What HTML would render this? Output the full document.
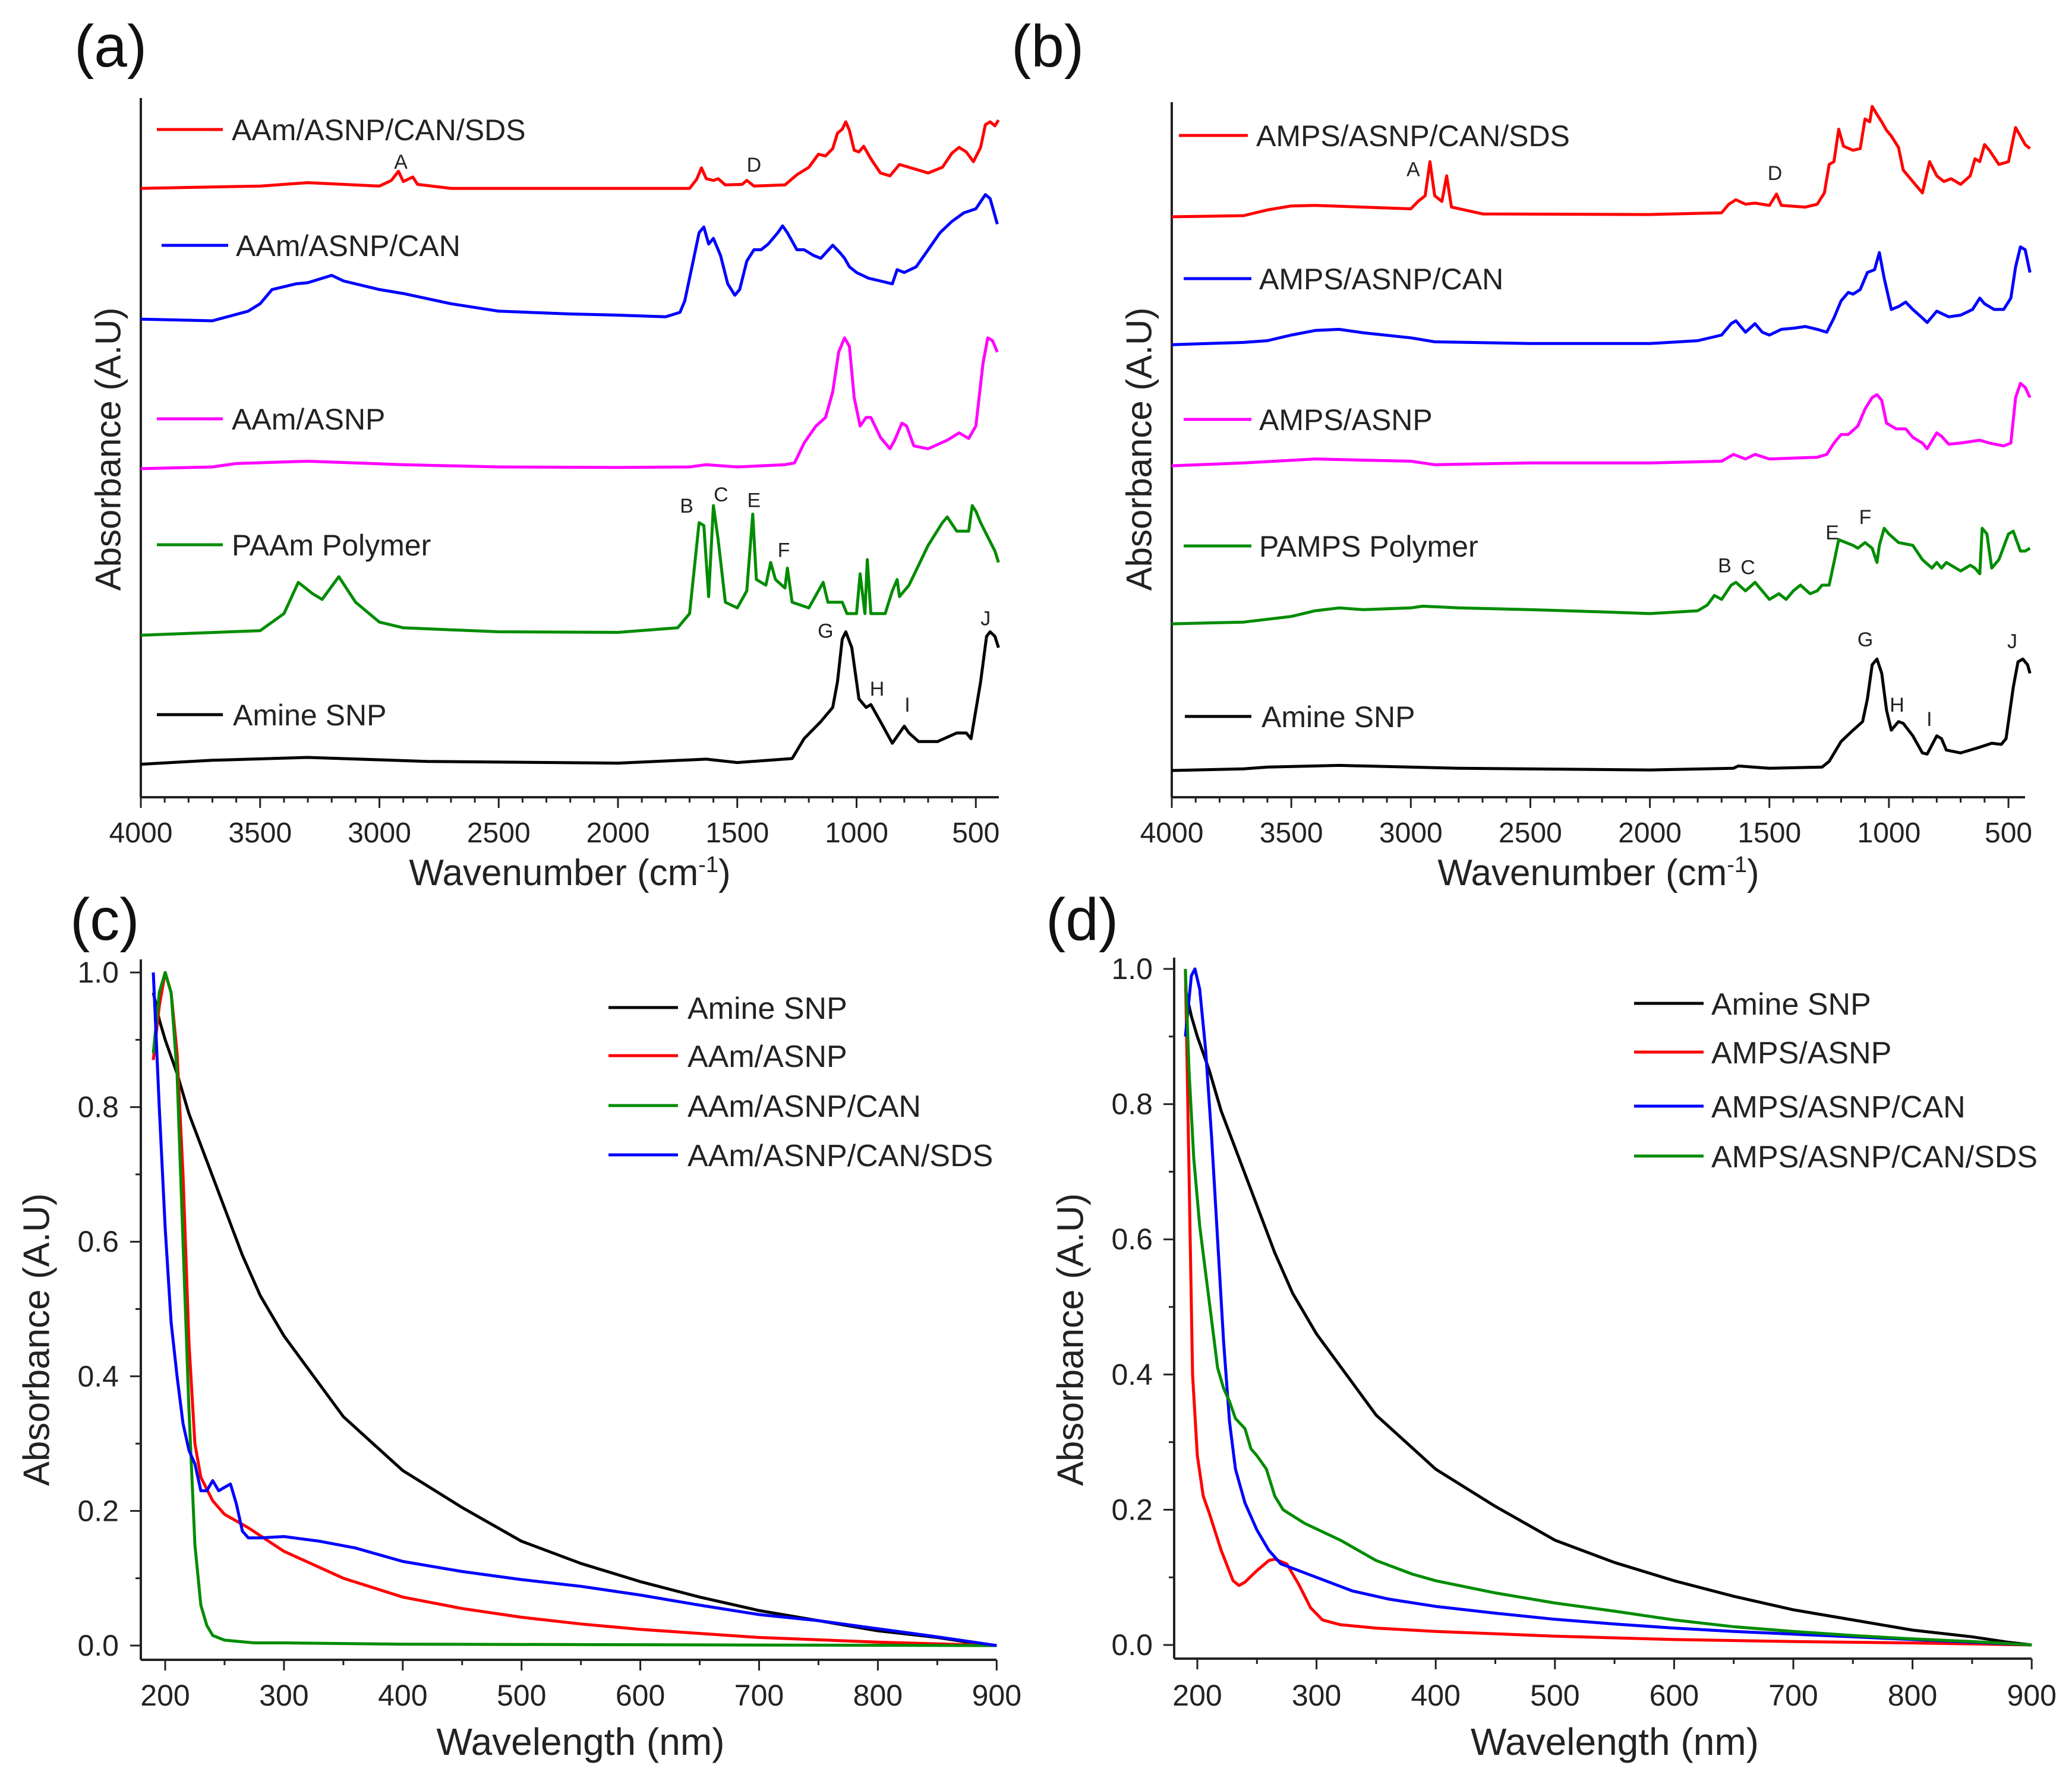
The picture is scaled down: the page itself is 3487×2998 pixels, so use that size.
<!DOCTYPE html>
<html><head><meta charset="utf-8"><style>
html,body{margin:0;padding:0;background:#fff;}
svg{display:block;font-family:"Liberation Sans",Arial,sans-serif;}
</style></head><body>
<svg id="fig" width="3487" height="2998" viewBox="0 0 3487 2998" xmlns="http://www.w3.org/2000/svg">
<rect width="3487" height="2998" fill="#fff"/>
<g id="pa"></g>
<g id="pb"></g>
<g id="pc"></g>
<g id="pd"></g>
</svg>
<script>
// ---------- Panel (a) FTIR data: [wavenumber cm-1, offset absorbance a.u.] ----------
const aBlack=[[4000,5.8],[3700,6.5],[3300,7.0],[2800,6.3],[2000,6.0],[1630,6.7],[1500,6.1],[1270,6.8],[1220,10.3],[1150,13.3],[1100,15.8],[1080,20.3],[1060,27.8],[1045,29.1],[1020,26.3],[990,17.3],[960,15.8],[940,16.3],[900,13.3],[850,9.5],[800,12.5],[780,11.3],[740,9.8],[660,9.8],[580,11.3],[540,11.3],[520,10.3],[480,20.3],[455,28.3],[440,29.1],[420,28.3],[405,26.3]];
const aGreen=[[4000,28.5],[3500,29.3],[3400,32.3],[3340,37.8],[3280,35.8],[3240,34.8],[3170,38.8],[3100,34.3],[3000,30.8],[2900,29.8],[2500,29.1],[2000,29.0],[1750,29.8],[1700,32.3],[1680,40.3],[1660,48.3],[1640,47.8],[1620,35.3],[1600,51.3],[1580,45.3],[1550,34.3],[1500,33.3],[1460,36.3],[1435,49.8],[1420,38.3],[1380,37.3],[1360,41.3],[1340,38.3],[1300,36.8],[1290,40.3],[1270,34.3],[1200,33.3],[1140,37.8],[1120,34.3],[1060,34.3],[1040,32.3],[1000,32.3],[985,39.3],[965,32.3],[955,41.8],[940,32.3],[880,32.3],[850,36.3],[830,38.3],[820,35.3],[780,37.3],[700,44.3],[640,48.3],[620,49.3],[580,46.8],[530,46.8],[515,51.3],[500,50.3],[480,48.3],[450,45.8],[420,43.3],[405,41.3]];
const aMagenta=[[4000,57.8],[3700,58.1],[3600,58.7],[3300,59.1],[2900,58.5],[2500,58.1],[2000,58.0],[1700,58.1],[1630,58.5],[1500,58.1],[1300,58.5],[1260,58.8],[1220,62.3],[1170,65.3],[1130,66.8],[1100,71.3],[1075,78.3],[1050,80.8],[1030,79.3],[1010,70.3],[985,65.3],[960,66.8],[940,66.8],[900,63.3],[860,61.3],[840,62.8],[810,65.8],[790,65.3],[760,61.8],[700,61.3],[620,62.8],[570,64.1],[530,63.1],[500,65.3],[470,76.3],[450,80.8],[430,80.3],[410,78.3]];
const aBlue=[[4000,84.1],[3700,83.8],[3550,85.5],[3500,86.8],[3450,89.3],[3350,90.3],[3300,90.5],[3200,91.8],[3150,90.8],[3000,89.3],[2900,88.6],[2700,86.8],[2500,85.5],[2200,85.0],[2000,84.8],[1800,84.5],[1740,85.3],[1720,87.3],[1690,93.3],[1660,99.3],[1640,100.3],[1620,97.3],[1600,98.3],[1570,95.3],[1540,90.3],[1510,88.3],[1490,89.3],[1460,94.3],[1430,96.3],[1400,96.3],[1370,97.3],[1330,99.3],[1310,100.5],[1290,99.3],[1250,96.3],[1220,96.3],[1180,95.3],[1150,94.8],[1100,97.1],[1070,95.8],[1050,94.8],[1030,93.3],[1000,92.3],[950,91.3],[900,90.8],[850,90.3],[830,92.8],[800,92.3],[750,93.3],[700,96.3],[650,99.3],[600,101.3],[550,102.8],[500,103.5],[460,106.0],[440,105.3],[410,100.8]];
const aRed=[[4000,107.1],[3500,107.5],[3300,108.1],[3000,107.5],[2950,108.5],[2920,110.1],[2900,108.3],[2860,109.1],[2840,107.8],[2700,107.1],[2000,107.1],[1700,107.1],[1670,108.7],[1650,110.7],[1630,108.8],[1600,108.5],[1580,108.8],[1550,107.7],[1480,107.8],[1460,108.5],[1430,107.5],[1300,107.7],[1250,109.5],[1200,110.8],[1160,113.1],[1130,112.8],[1100,114.1],[1080,116.8],[1060,117.5],[1045,118.8],[1030,117.3],[1010,113.8],[990,113.5],[970,114.5],[940,112.3],[900,109.8],[860,109.3],[820,111.3],[780,110.8],[740,110.3],[700,109.8],[640,110.8],[600,113.3],[570,114.3],[540,113.5],[510,111.8],[480,114.3],[460,118.3],[440,118.8],[420,118.1],[405,119.1]];
const aPeakLabels=["A","D","B","C","E","F","G","H","I","J"];
const aPeakPos=[[2910,111.8],[1430,111.3],[1712,51.3],[1568,53.3],[1430,52.3],[1305,43.5],[1130,29.3],[914,19.1],[787,16.3],[459,31.5]];
const aLegendNames=["AAm/ASNP/CAN/SDS","AAm/ASNP/CAN","AAm/ASNP","PAAm Polymer","Amine SNP"];

// ---------- Panel (b) FTIR data ----------
const bBlack=[[4000,4.7],[3700,5.0],[3600,5.3],[3300,5.6],[2800,5.1],[2000,4.8],[1650,5.1],[1630,5.5],[1500,5.1],[1280,5.3],[1250,6.3],[1200,9.8],[1150,11.8],[1110,13.3],[1090,17.3],[1070,23.3],[1050,24.3],[1030,21.8],[1010,15.3],[990,11.8],[960,13.3],[940,13.0],[900,10.8],[860,7.8],[840,7.6],[800,10.8],[780,10.3],[760,8.3],[700,7.8],[620,8.8],[570,9.5],[530,9.3],[510,10.3],[480,19.3],[460,23.8],[440,24.3],[420,23.3],[410,21.8]];
const bGreen=[[4000,30.5],[3700,30.8],[3500,31.8],[3400,32.8],[3300,33.3],[3200,33.0],[3000,33.3],[2950,33.6],[2800,33.3],[2500,33.0],[2200,32.6],[2000,32.3],[1800,32.8],[1760,33.8],[1730,35.5],[1700,34.8],[1660,37.3],[1640,37.8],[1600,36.3],[1560,37.8],[1530,36.3],[1500,34.8],[1460,35.8],[1430,34.8],[1400,36.3],[1370,37.3],[1330,35.8],[1300,36.3],[1280,37.3],[1250,37.3],[1230,41.3],[1210,45.3],[1180,44.8],[1150,44.3],[1130,43.8],[1100,44.8],[1070,43.8],[1050,41.3],[1040,44.3],[1020,47.3],[1000,46.3],[960,44.8],[900,44.3],[860,41.8],[820,40.3],[800,41.3],[780,40.3],[760,41.3],[700,39.8],[660,40.8],[640,40.3],[620,39.3],[610,47.3],[590,46.3],[570,40.3],[540,41.8],[500,46.3],[480,46.8],[450,43.3],[430,43.3],[410,43.8]];
const bMagenta=[[4000,58.3],[3700,58.8],[3400,59.5],[3000,59.1],[2900,58.5],[2500,58.8],[2000,58.8],[1700,59.1],[1650,60.3],[1600,59.5],[1560,60.3],[1500,59.5],[1300,59.8],[1260,60.3],[1230,62.3],[1200,63.8],[1170,63.8],[1130,65.3],[1100,68.3],[1070,70.3],[1050,70.8],[1030,69.8],[1010,65.8],[970,64.8],[930,64.8],[900,63.3],[860,62.3],[840,61.3],[800,64.1],[780,63.5],[750,62.1],[700,62.3],[620,62.8],[580,62.3],[520,61.8],[490,62.3],[470,70.3],[450,72.8],[430,72.1],[410,70.3]];
const bBlue=[[4000,79.6],[3700,80.0],[3600,80.3],[3500,81.3],[3400,82.1],[3300,82.3],[3200,81.7],[3000,80.8],[2900,80.1],[2500,79.8],[2000,79.8],[1800,80.3],[1700,81.3],[1660,83.3],[1640,83.8],[1600,81.8],[1560,83.3],[1530,81.8],[1500,81.3],[1450,82.3],[1400,82.5],[1350,82.8],[1300,82.3],[1260,81.8],[1230,84.3],[1200,87.3],[1170,88.8],[1150,88.5],[1120,89.3],[1090,92.3],[1060,92.8],[1040,95.8],[1020,91.3],[990,85.8],[960,86.3],[930,87.1],[900,85.8],[860,84.3],[840,83.5],[800,85.5],[780,85.1],[750,84.5],[700,84.8],[650,85.8],[620,87.8],[600,86.8],[560,85.8],[520,85.8],[490,87.8],[470,93.3],[450,96.8],[430,96.3],[410,92.3]];
const bRed=[[4000,102.1],[3700,102.3],[3600,103.3],[3500,104.0],[3400,104.1],[3000,103.5],[2970,104.8],[2940,105.8],[2920,111.8],[2900,105.8],[2870,104.8],[2850,109.3],[2830,103.8],[2700,102.6],[2000,102.5],[1700,102.8],[1670,104.3],[1640,105.1],[1600,104.3],[1560,104.5],[1500,104.1],[1470,106.1],[1450,104.1],[1350,103.8],[1300,104.3],[1270,106.3],[1250,111.3],[1230,111.8],[1210,117.5],[1190,114.5],[1150,113.8],[1120,114.1],[1100,119.3],[1080,118.8],[1070,121.5],[1050,120.1],[1030,118.8],[1010,117.3],[990,116.3],[960,114.3],[940,110.3],[900,108.3],[860,106.3],[830,111.8],[800,109.3],[770,108.3],[740,108.8],[700,107.8],[660,109.3],[640,112.3],[620,111.8],[600,114.8],[580,113.8],[540,111.3],[500,111.8],[470,117.8],[450,116.3],[430,114.8],[410,114.1]];
const bPeakLabels=["A","D","B","C","E","F","G","H","I","J"];
const bPeakPos=[[2990,110.5],[1477,109.8],[1687,40.8],[1590,40.5],[1237,46.6],[1099,49.3],[1099,27.8],[966,16.3],[831,13.8],[484,27.5]];
const bLegendNames=["AMPS/ASNP/CAN/SDS","AMPS/ASNP/CAN","AMPS/ASNP","PAMPS Polymer","Amine SNP"];

const irTicks=[4000,3500,3000,2500,2000,1500,1000,500];

// ---------- Panel (c) UV-Vis data: [wavelength nm, absorbance] ----------
const cBlack=[[190,0.97],[195,0.93],[200,0.90],[210,0.85],[220,0.79],[235,0.72],[250,0.65],[265,0.58],[280,0.52],[300,0.46],[325,0.40],[350,0.34],[375,0.30],[400,0.26],[450,0.205],[500,0.155],[550,0.122],[600,0.095],[650,0.072],[700,0.052],[750,0.037],[800,0.022],[850,0.012],[880,0.004],[900,0.0]];
const cRed=[[190,0.87],[195,0.95],[200,1.0],[205,0.97],[210,0.88],[215,0.70],[220,0.45],[225,0.30],[230,0.25],[240,0.215],[250,0.195],[270,0.175],[300,0.14],[350,0.10],[400,0.072],[450,0.055],[500,0.042],[550,0.032],[600,0.024],[650,0.018],[700,0.012],[800,0.005],[900,0.0]];
const cGreen=[[190,0.88],[195,0.97],[200,1.0],[205,0.97],[210,0.85],[215,0.60],[220,0.35],[225,0.15],[230,0.06],[235,0.03],[240,0.015],[250,0.008],[275,0.004],[300,0.004],[400,0.002],[900,0.0]];
const cBlue=[[190,1.0],[195,0.80],[200,0.62],[205,0.48],[210,0.40],[215,0.33],[220,0.29],[225,0.27],[230,0.23],[235,0.23],[240,0.245],[245,0.23],[250,0.235],[255,0.24],[260,0.21],[265,0.17],[270,0.16],[280,0.16],[300,0.162],[330,0.155],[360,0.145],[400,0.125],[450,0.11],[500,0.098],[550,0.088],[600,0.075],[650,0.06],[700,0.046],[750,0.037],[800,0.025],[850,0.013],[900,0.0]];
const cLegendNames=["Amine SNP","AAm/ASNP","AAm/ASNP/CAN","AAm/ASNP/CAN/SDS"];

// ---------- Panel (d) UV-Vis data ----------
const dBlack=[[190,0.97],[195,0.93],[200,0.90],[210,0.85],[220,0.79],[235,0.72],[250,0.65],[265,0.58],[280,0.52],[300,0.46],[325,0.40],[350,0.34],[375,0.30],[400,0.26],[450,0.205],[500,0.155],[550,0.122],[600,0.095],[650,0.072],[700,0.052],[750,0.037],[800,0.022],[850,0.012],[880,0.004],[900,0.0]];
const dRed=[[190,1.0],[193,0.7],[196,0.4],[200,0.28],[205,0.22],[210,0.195],[220,0.14],[230,0.095],[235,0.088],[240,0.093],[250,0.11],[260,0.125],[265,0.127],[275,0.12],[285,0.09],[295,0.055],[305,0.037],[320,0.03],[350,0.025],[400,0.02],[500,0.013],[600,0.008],[700,0.005],[800,0.003],[900,0.0]];
const dBlue=[[190,0.9],[195,0.99],[198,1.0],[202,0.97],[207,0.88],[212,0.75],[217,0.6],[222,0.45],[227,0.33],[232,0.26],[240,0.21],[250,0.17],[260,0.14],[270,0.12],[300,0.10],[330,0.08],[360,0.068],[400,0.057],[450,0.047],[500,0.038],[550,0.031],[600,0.025],[650,0.02],[700,0.016],[750,0.012],[800,0.008],[850,0.004],[900,0.0]];
const dGreen=[[190,1.0],[193,0.85],[197,0.72],[202,0.62],[207,0.55],[212,0.48],[217,0.41],[222,0.38],[227,0.36],[232,0.335],[240,0.32],[245,0.29],[250,0.28],[258,0.26],[265,0.22],[272,0.2],[290,0.18],[320,0.155],[350,0.125],[380,0.105],[400,0.095],[450,0.077],[500,0.062],[550,0.05],[600,0.037],[650,0.027],[700,0.02],[750,0.014],[800,0.009],[850,0.005],[900,0.0]];
const dLegendNames=["Amine SNP","AMPS/ASNP","AMPS/ASNP/CAN","AMPS/ASNP/CAN/SDS"];

const uvXTicks=[200,300,400,500,600,700,800,900];
const uvYTicks=[0.0,0.2,0.4,0.6,0.8,1.0];

const NS="http://www.w3.org/2000/svg";
const RED="#ff0000",BLUE="#0000ff",MAG="#ff00ff",GRN="#008c00",BLK="#000000";
function mk(tag,parent,attrs){const e=document.createElementNS(NS,tag);for(const k in attrs)e.setAttribute(k,attrs[k]);parent.appendChild(e);return e;}
function pathFrom(data,fx,fy){return data.map((p,i)=>(i?"L":"M")+fx(p[0]).toFixed(1)+","+fy(p[1]).toFixed(1)).join("");}

function irPanel(g,x0,xEnd,axisTop,scale,series,legendNames,legendRows,legendLineX,legendTextX,peakLabels,peakPos,ylabX,panelLetter,letterX){
  const yBase=1342;
  const fx=w=>x0+(4000-w)*scale;
  const fy=v=>yBase-v*9.57;
  let e=mk("line",g,{x1:x0,y1:axisTop,x2:x0,y2:yBase,stroke:"#222","stroke-width":4});
  
  
  e=mk("line",g,{x1:x0,y1:yBase,x2:xEnd,y2:yBase,stroke:"#222","stroke-width":4});
  
  
  for(let w=3900;w>=430;w-=100){
    if(w%500===0)continue;
    e=mk("line",g,{x1:fx(w),y1:yBase,x2:fx(w),y2:yBase+9,stroke:"#222","stroke-width":3});
    
    
  }
  irTicks.forEach(t=>{
    let tk=mk("line",g,{x1:fx(t),y1:yBase,x2:fx(t),y2:yBase+18,stroke:"#222","stroke-width":3});
    
    
    let tl=mk("text",g,{x:fx(t),y:1418,"font-size":48,"text-anchor":"middle",fill:"#222"});
    tl.textContent=t;
    
    
  });
  let xt=mk("text",g,{x:(x0+xEnd)/2,y:1490,"font-size":62,"text-anchor":"middle",fill:"#222"});
  xt.innerHTML='Wavenumber (cm<tspan dy="-22" font-size="38">-1</tspan><tspan dy="22">)</tspan>';
  
  
  let yt=mk("text",g,{x:ylabX,y:756,"font-size":60,"text-anchor":"middle",fill:"#222",transform:"rotate(-90 "+ylabX+" 756)","dominant-baseline":"central"});
  yt.textContent="Absorbance (A.U)";
  
  
  let pl=mk("text",g,{x:letterX,y:112,"font-size":100,fill:"#111"});
  pl.textContent=panelLetter;
  
  
  series.forEach((s,i)=>{
    let p=mk("path",g,{d:pathFrom(s.data,fx,fy),fill:"none",stroke:s.color,"stroke-width":5,"stroke-linejoin":"round"});
    
    
  });
  legendNames.forEach((n,i)=>{
    const y=legendRows[i];
    let l=mk("line",g,{x1:legendLineX[i][0],y1:y,x2:legendLineX[i][1],y2:y,stroke:series[series.length-1-i].color,"stroke-width":5});
    
    
    let t=mk("text",g,{x:legendTextX[i],y:y+18,"font-size":50,fill:"#222"});
    t.textContent=n;
    
    
  });
  peakLabels.forEach((L,i)=>{
    let t=mk("text",g,{x:fx(peakPos[i][0]),y:fy(peakPos[i][1])+12,"font-size":34,"text-anchor":"middle",fill:"#222"});
    t.textContent=L;
    
    
  });
}

irPanel(document.getElementById("pa"),237,1681,165,0.4015,
  [{key:"red",data:aRed,color:RED},{key:"blue",data:aBlue,color:BLUE},{key:"magenta",data:aMagenta,color:MAG},{key:"green",data:aGreen,color:GRN},{key:"black",data:aBlack,color:BLK}].reverse(),
  aLegendNames,[218,413,705,917,1203],[[264,375],[272,384],[264,375],[264,375],[264,375]],[390,397,390,390,392],
  aPeakLabels,aPeakPos,182,"(a)",125);
irPanel(document.getElementById("pb"),1972,3408,172,0.4023,
  [{key:"red",data:bRed,color:RED},{key:"blue",data:bBlue,color:BLUE},{key:"magenta",data:bMagenta,color:MAG},{key:"green",data:bGreen,color:GRN},{key:"black",data:bBlack,color:BLK}].reverse(),
  bLegendNames,[228,469,706,919,1206],[[1984,2100],[1992,2106],[1992,2106],[1992,2106],[1994,2106]],[2114,2119,2119,2119,2123],
  bPeakLabels,bPeakPos,1917,"(b)",1702);

function uvPanel(g,axX,axBottom,axTop,axRight,x200,xs,y0,ys,series,legendNames,legendRows,lx1,lx2,tx,ylabX,labRight,panelLetter,letterX){
  const fx=n=>x200+(n-200)*xs;
  const fy=a=>y0-a*ys;
  let e=mk("line",g,{x1:axX,y1:axTop,x2:axX,y2:axBottom,stroke:"#222","stroke-width":4});
  
  
  e=mk("line",g,{x1:axX,y1:axBottom,x2:axRight,y2:axBottom,stroke:"#222","stroke-width":4});
  
  
  for(let n=250;n<900;n+=100){
    e=mk("line",g,{x1:fx(n),y1:axBottom,x2:fx(n),y2:axBottom+9,stroke:"#222","stroke-width":3});
    
    
  }
  uvXTicks.forEach(t=>{
    let tk=mk("line",g,{x1:fx(t),y1:axBottom,x2:fx(t),y2:axBottom+18,stroke:"#222","stroke-width":3});
    
    
    let tl=mk("text",g,{x:fx(t),y:2871,"font-size":50,"text-anchor":"middle",fill:"#222"});
    tl.textContent=t;
    
    
  });
  for(let a=0.1;a<1;a+=0.2){
    e=mk("line",g,{x1:axX-9,y1:fy(a),x2:axX,y2:fy(a),stroke:"#222","stroke-width":3});
    
    
  }
  uvYTicks.forEach(t=>{
    let tk=mk("line",g,{x1:axX-18,y1:fy(t),x2:axX,y2:fy(t),stroke:"#222","stroke-width":3});
    
    
    let tl=mk("text",g,{x:labRight,y:fy(t)+17,"font-size":50,"text-anchor":"end",fill:"#222"});
    tl.textContent=t.toFixed(1);
    
    
  });
  let xt=mk("text",g,{x:(axX+axRight)/2+20,y:2954,"font-size":64,"text-anchor":"middle",fill:"#222"});
  xt.textContent="Wavelength (nm)";
  
  
  const cy=2255;
  let yt=mk("text",g,{x:ylabX,y:cy,"font-size":62,"text-anchor":"middle",fill:"#222",transform:"rotate(-90 "+ylabX+" "+cy+")","dominant-baseline":"central"});
  yt.textContent="Absorbance (A.U)";
  
  
  let pl=mk("text",g,{x:letterX,y:1582,"font-size":100,fill:"#111"});
  pl.textContent=panelLetter;
  
  
  series.forEach(s=>{
    let p=mk("path",g,{d:pathFrom(s.data,fx,fy),fill:"none",stroke:s.color,"stroke-width":5,"stroke-linejoin":"round"});
    
    
  });
  legendNames.forEach((n,i)=>{
    const y=legendRows[i];
    let l=mk("line",g,{x1:lx1,y1:y,x2:lx2,y2:y,stroke:series[i].color,"stroke-width":5});
    
    
    let t=mk("text",g,{x:tx,y:y+19,"font-size":52,fill:"#222"});
    t.textContent=n;
    
    
  });
}
uvPanel(document.getElementById("pc"),237,2794,1615,1677,278,1.999,2770,1133,
  [{key:"black",data:cBlack,color:BLK},{key:"red",data:cRed,color:RED},{key:"green",data:cGreen,color:GRN},{key:"blue",data:cBlue,color:BLUE}],
  cLegendNames,[1696,1777,1861,1944],1024,1141,1157,62,200,"(c)",118);
uvPanel(document.getElementById("pd"),1976,2792,1612,3419,2015,2.006,2769,1138,
  [{key:"black",data:dBlack,color:BLK},{key:"red",data:dRed,color:RED},{key:"blue",data:dBlue,color:BLUE},{key:"green",data:dGreen,color:GRN}],
  dLegendNames,[1689,1771,1862,1946],2750,2867,2880,1802,1940,"(d)",1760);
</script>
</body></html>
